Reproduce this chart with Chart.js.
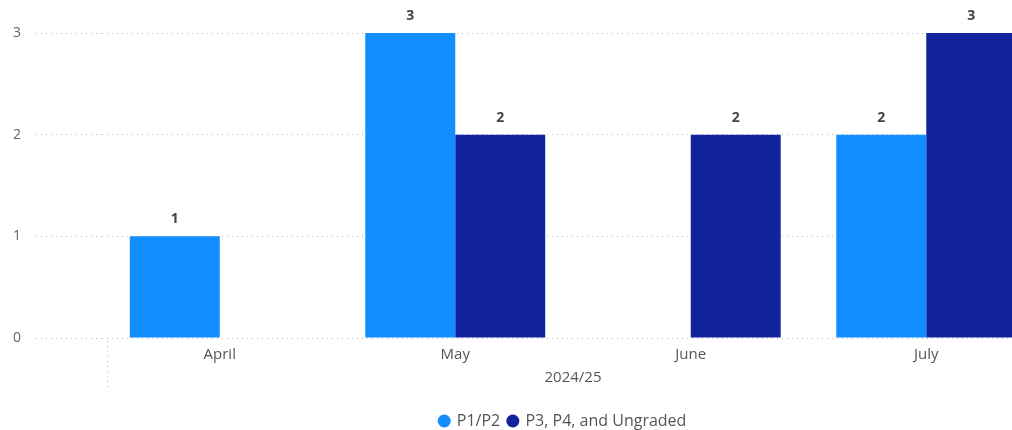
<!DOCTYPE html>
<html>
<head>
<meta charset="utf-8">
<script src="https://cdn.jsdelivr.net/npm/chart.js@4/dist/chart.umd.min.js"></script>
<style>
  html, body { margin: 0; padding: 0; background: #fff; }
  #wrap { width: 1012px; height: 430px; overflow: hidden; position: relative; }
</style>
</head>
<body>
<div id="wrap">
  <canvas id="chart" width="1044" height="439"></canvas>
</div>
<script>
// Chart data
const months = ['April', 'May', 'June', 'July'];
const groupLabel = '2024/25';
const p1p2 = [1, 3, null, 2];
const p3p4 = [null, 2, 2, 3];
const yTicks = [0, 1, 2, 3];

const FONT = '"Segoe UI", "Open Sans", sans-serif';
const GRID = '#b8b8b8';

// Value labels above bars
const barLabels = {
  id: 'barLabels',
  afterDatasetsDraw(chart) {
    const ctx = chart.ctx;
    ctx.save();
    ctx.font = 'bold 14px ' + FONT;
    ctx.fillStyle = '#444';
    ctx.textAlign = 'center';
    ctx.textBaseline = 'middle';
    chart.data.datasets.forEach((ds, i) => {
      chart.getDatasetMeta(i).data.forEach((bar, j) => {
        const v = ds.data[j];
        if (v == null) return;
        ctx.fillText(String(v), bar.x, bar.y - 17);
      });
    });
    ctx.restore();
  }
};

// Dotted separator at the start of the year group
const groupSeparator = {
  id: 'groupSeparator',
  afterDraw(chart) {
    const area = chart.chartArea;
    const ctx = chart.ctx;
    ctx.save();
    ctx.strokeStyle = GRID;
    ctx.lineWidth = 1;
    ctx.setLineDash([1, 4]);
    ctx.beginPath();
    ctx.moveTo(area.left + 5.5, area.bottom + 3);
    ctx.lineTo(area.left + 5.5, area.bottom + 53);
    ctx.stroke();
    ctx.restore();
  }
};

// Move legend so it sits under the year group like the original
const legendShift = {
  id: 'legendShift',
  afterLayout(chart) {
    chart.legend.left += 41;
    chart.legend.right += 41;
  }
};

const ctx = document.getElementById('chart').getContext('2d');
const chart = new Chart(ctx, {
  type: 'bar',
  data: {
    labels: months,
    datasets: [
      {
        label: 'P1/P2',
        data: p1p2,
        backgroundColor: '#118DFF',
        barPercentage: 1,
        categoryPercentage: 0.764
      },
      {
        label: 'P3, P4, and Ungraded',
        data: p3p4,
        backgroundColor: '#12239E',
        barPercentage: 1,
        categoryPercentage: 0.764
      }
    ]
  },
  options: {
    responsive: false,
    animation: false,
    layout: { padding: { top: 33, left: 0, right: 0, bottom: 0 } },
    plugins: {
      tooltip: { enabled: false },
      legend: {
        position: 'bottom',
        labels: {
          usePointStyle: true,
          pointStyle: 'circle',
          boxWidth: 9.2,
          boxHeight: 9.2,
          padding: 8,
          color: '#555',
          font: { family: FONT, size: 16 }
        }
      }
    },
    scales: {
      x: {
        grid: { display: false, drawTicks: false },
        border: { display: false },
        ticks: {
          color: '#555',
          padding: 8,
          font: { family: FONT, size: 15 }
        },
        title: {
          display: true,
          text: groupLabel,
          color: '#555',
          padding: { top: -3, bottom: 18 },
          font: { family: FONT, size: 15 }
        }
      },
      y: {
        min: yTicks[0],
        max: yTicks[yTicks.length - 1],
        afterBuildTicks(scale) {
          scale.ticks = yTicks.map(v => ({ value: v }));
        },
        afterFit(scale) {
          scale.width = 102;
        },
        grid: {
          color: GRID,
          tickColor: GRID,
          tickLength: 66,
          tickBorderDash: [1, 4]
        },
        border: { display: false, dash: [1, 4] },
        ticks: {
          color: '#666',
          padding: 15,
          font: { family: FONT, size: 14 }
        }
      }
    }
  },
  plugins: [barLabels, groupSeparator, legendShift]
});
</script>
</body>
</html>
